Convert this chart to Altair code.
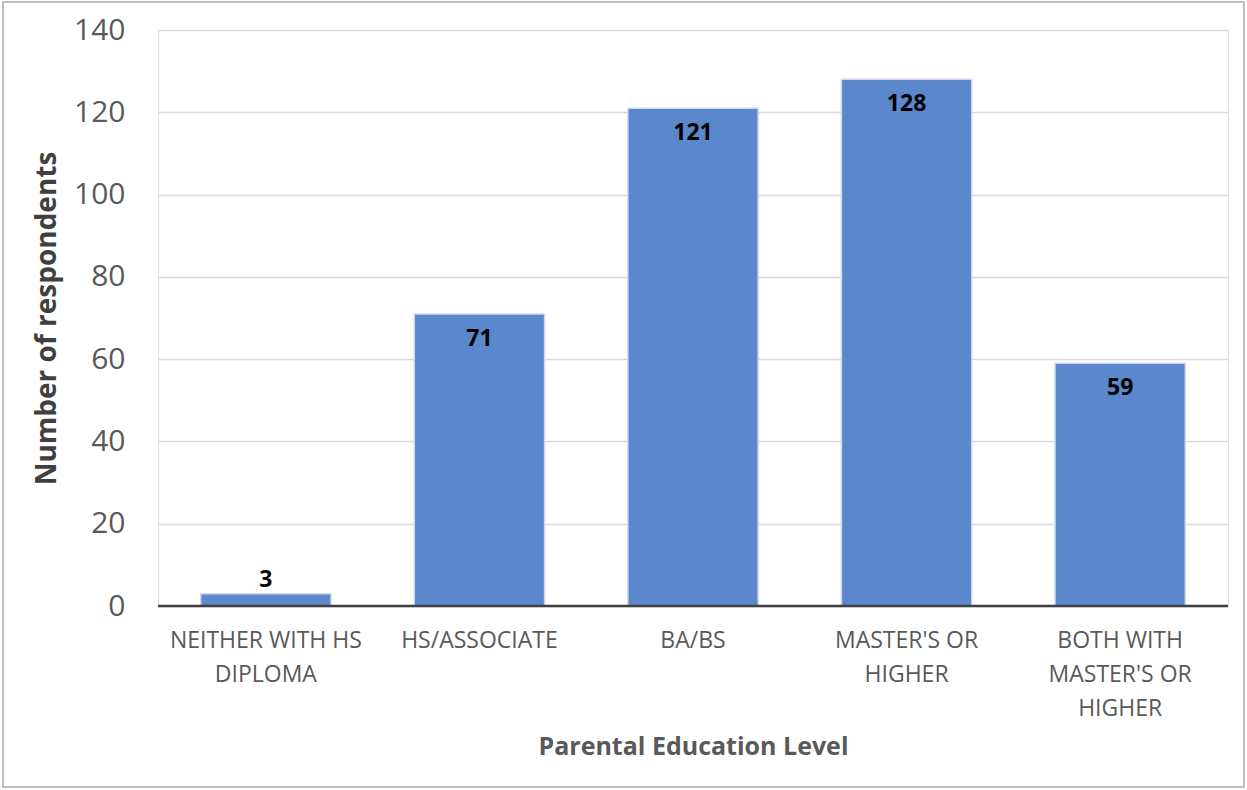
import altair as alt
import pandas as pd

# Survey counts by parental education level
categories = [
    "NEITHER WITH HS|DIPLOMA",
    "HS/ASSOCIATE",
    "BA/BS",
    "MASTER'S OR|HIGHER",
    "BOTH WITH|MASTER'S OR|HIGHER",
]
counts = [3, 71, 121, 128, 59]

df = pd.DataFrame({"level": categories, "count": counts})

W, H = 1070, 576
FONT = "Open Sans"

x_enc = alt.X(
    "level:N",
    sort=categories,
    scale=alt.Scale(paddingInner=0.39, paddingOuter=0.2),
    axis=alt.Axis(
        title="Parental Education Level",
        titleFontSize=25,
        titleFontWeight="bold",
        titleColor="#595959",
        titlePadding=14,
        labelExpr="split(datum.label, '|')",
        labelAngle=0,
        labelFontSize=23,
        labelColor="#595959",
        labelLineHeight=34,
        labelPadding=23,
        labelLimit=300,
        ticks=False,
        domain=False,
        grid=False,
    ),
)

y_enc = alt.Y(
    "count:Q",
    scale=alt.Scale(domain=[0, 140]),
    axis=alt.Axis(
        title="Number of respondents",
        titleFontSize=28,
        titleFontWeight="bold",
        titleColor="#404040",
        titlePadding=12,
        values=[0, 20, 40, 60, 80, 100, 120, 140],
        labelFontSize=30,
        labelColor="#595959",
        labelPadding=33,
        ticks=False,
        domain=False,
        gridColor="#d9d9d9",
        gridWidth=1.5,
    ),
)

base = alt.Chart(df)

bars = base.mark_bar(color="#5b87cd", stroke="#cdd8ec", strokeWidth=1.5).encode(
    x=x_enc, y=y_enc
)

# baseline along zero
zero = alt.Chart(pd.DataFrame({"z": [0]})).mark_rule(
    color="#404040", strokeWidth=2.5
).encode(y="z:Q")

label_style = dict(fontSize=23, fontWeight="bold", color="#000000", font=FONT)

inside = base.transform_filter("datum.count > 10").mark_text(
    baseline="middle", dy=25, **label_style
).encode(x=alt.X("level:N", sort=categories), y="count:Q", text="count:Q")

above = base.transform_filter("datum.count <= 10").mark_text(
    baseline="middle", dy=-14, **label_style
).encode(x=alt.X("level:N", sort=categories), y="count:Q", text="count:Q")

# outer frame around the whole figure
frame = alt.Chart(pd.DataFrame({"f": [0]})).mark_rect(
    fill=None, stroke="#bfbfbf", strokeWidth=2
).encode(
    x=alt.value(-155), x2=alt.value(1086),
    y=alt.value(-28), y2=alt.value(757),
)

chart = (
    alt.layer(bars, zero, inside, above, frame)
    .properties(
        width=W,
        height=H,
        autosize=alt.AutoSizeParams(type="none"),
        padding={"left": 158, "top": 30, "right": 19, "bottom": 184},
        background="#ffffff",
    )
    .configure_view(stroke=None)
    .configure(font=FONT)
)

chart.save("out.html", embed_options={"renderer": "svg", "actions": False})
